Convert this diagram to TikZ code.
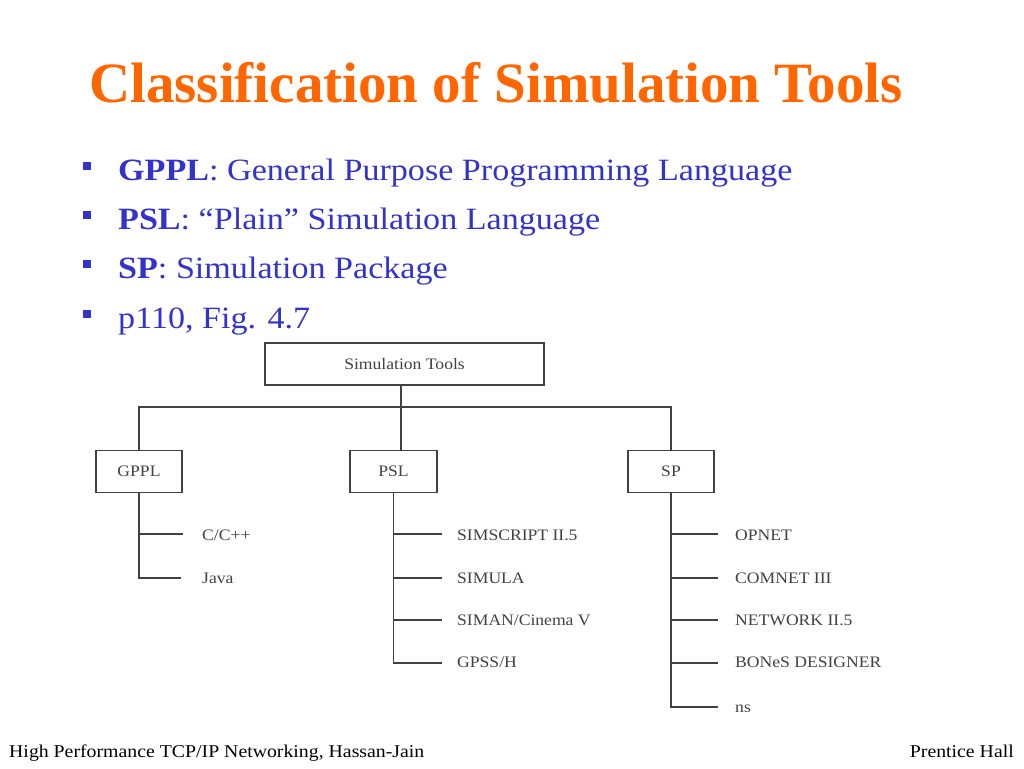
\documentclass[tikz,border=0pt]{standalone}
\usepackage{fontspec}
\setmainfont{Liberation Serif}
\newfontfamily\widefont[FakeStretch=1.1]{Liberation Serif}
\definecolor{titleorange}{RGB}{255,102,0}
\definecolor{bulletblue}{RGB}{51,51,204}
\definecolor{diagray}{RGB}{65,65,65}
\begin{document}
\begin{tikzpicture}[x=1pt,y=-1pt,
  box/.style={draw=diagray,line width=1.8pt,minimum width=#1,minimum height=42pt,inner sep=0pt,font=\widefont\fontsize{16}{18}\selectfont,text=diagray},
  leaf/.style={anchor=west,inner sep=0pt,font=\widefont\fontsize{16}{18}\selectfont,text=diagray},
  conn/.style={draw=diagray,line width=1.8pt},
  bul/.style={anchor=base west,inner sep=0pt,text=bulletblue,font=\widefont\fontsize{31}{36}\selectfont},
  sq/.style={fill=bulletblue,minimum size=8pt,inner sep=0pt},
  foot/.style={inner sep=0pt,font=\widefont\fontsize{18}{20}\selectfont}]
\useasboundingbox (0,0) rectangle (1024,768);
% title
\node[anchor=base,inner sep=0pt,text=titleorange,font=\fontsize{57}{64}\selectfont\bfseries] (title) at (496,102) {Classification of Simulation Tools};
% bullets
\node[sq] (b1) at (87,166) {};
\node[bul] (t1) at (118,180) {\textbf{GPPL}: General Purpose Programming Language};
\node[sq] (b2) at (87,215) {};
\node[bul] (t2) at (118,229) {\textbf{PSL}: “Plain” Simulation Language};
\node[sq] (b3) at (87,264) {};
\node[bul] (t3) at (118,278) {\textbf{SP}: Simulation Package};
\node[sq] (b4) at (87,314) {};
\node[bul] (t4) at (118,328) {p110, Fig. 4.7};
% footer
\node[foot,anchor=base west] (f1) at (9,757) {High Performance TCP/IP Networking, Hassan-Jain};
\node[foot,anchor=base east] (f2) at (1014,757) {Prentice Hall};
% diagram
\begin{scope}
\clip (0,330) rectangle (1024,711);
\node[box=279pt] (root) at (404.5,364) {Simulation Tools};
\node[box=86pt] (gppl) at (139,471.5) {GPPL};
\node[box=87pt] (psl) at (393.5,471.5) {PSL};
\node[box=86pt] (sp) at (671,471.5) {SP};
\coordinate (hy) at (0,407);
\draw[conn] (root.south -| 401,0) -- (401,407);
\draw[conn] (gppl.north) -- (gppl.north |- hy) -- (sp.north |- hy) -- (sp.north);
\draw[conn] (psl.north -| 401,0) -- (401,407);
% GPPL leaves
\node[leaf] (c) at (202,535) {C/C++};
\node[leaf] (java) at (202,578) {Java};
\draw[conn] (gppl.south) -- (139,578) -- (181,578);
\draw[conn] (139,534) -- (183,534);
% PSL leaves
\node[leaf] (l1) at (457,535) {SIMSCRIPT II.5};
\node[leaf] (l2) at (457,578) {SIMULA};
\node[leaf] (l3) at (457,620) {SIMAN/Cinema V};
\node[leaf] (l4) at (457,662) {GPSS/H};
\draw[conn] (psl.south) -- (393.5,663) -- (442,663);
\foreach \yy in {534,578,620} \draw[conn] (393.5,\yy) -- (442,\yy);
% SP leaves
\node[leaf] (s1) at (735,535) {OPNET};
\node[leaf] (s2) at (735,578) {COMNET III};
\node[leaf] (s3) at (735,620) {NETWORK II.5};
\node[leaf] (s4) at (735,662) {BONeS DESIGNER};
\node[leaf] (s5) at (735,709) {ns};
\draw[conn] (sp.south) -- (671,707) -- (718,707);
\foreach \yy in {534,578,620,663} \draw[conn] (671,\yy) -- (718,\yy);
\end{scope}
\end{tikzpicture}
\end{document}
